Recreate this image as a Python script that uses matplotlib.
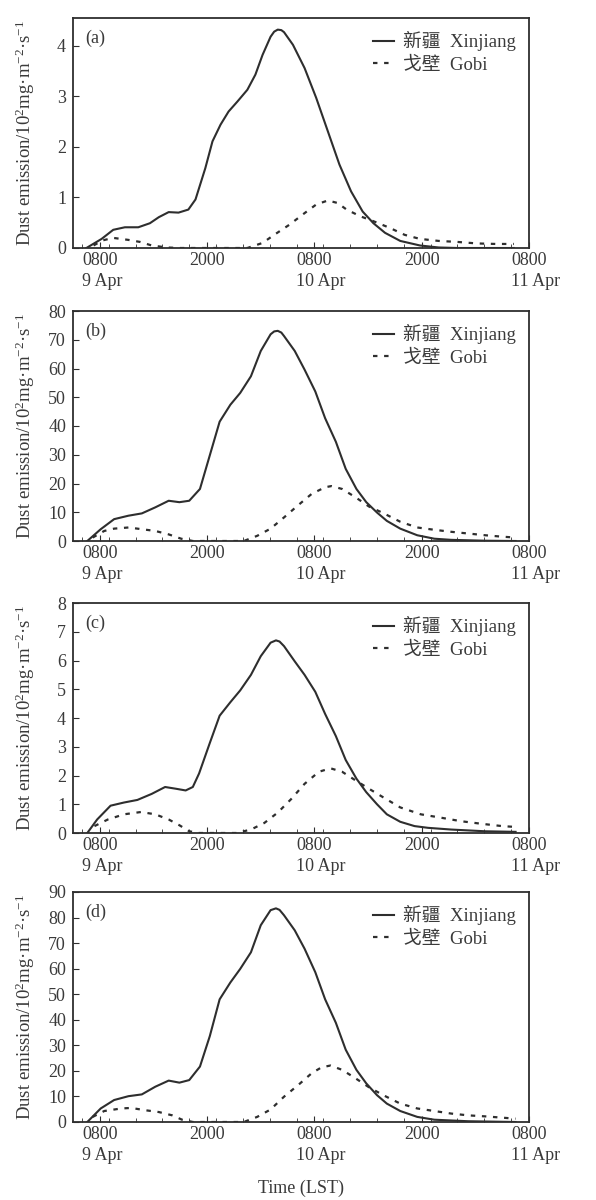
import matplotlib
matplotlib.use('Agg')
import matplotlib.pyplot as plt
from matplotlib.ticker import MultipleLocator

plt.rcParams['font.family'] = ['Liberation Serif', 'Noto Sans CJK SC']
plt.rcParams['mathtext.fontset'] = 'custom'
plt.rcParams['mathtext.rm'] = 'Liberation Serif'
plt.rcParams['mathtext.default'] = 'regular'

# time axis: hours since 0000 9 Apr (LST)
tick_hours = [8, 20, 32, 44, 56]
tick_labels = ['0800', '2000', '0800', '2000', '0800']
date_hours = [8, 32, 56]
date_labels = ['9 Apr', '10 Apr', '11 Apr']

# (a)
t_xj_a = [6.5, 8.2, 9.5, 10.8, 12.3, 13.6, 14.6, 15.7, 16.8, 17.9, 18.7, 19.8, 20.6, 21.5, 22.4,
          23.4, 24.5, 25.4, 26.2, 27.1, 27.5, 27.9, 28.3, 28.6, 29.6, 30.9, 32.2, 33.5, 34.8,
          36.1, 37.4, 38.6, 39.9, 41.6, 43.8, 45.9, 48.0, 54.3]
xj_a = [0, 0.18, 0.36, 0.41, 0.41, 0.49, 0.61, 0.71, 0.70, 0.76, 0.96, 1.58, 2.11, 2.44, 2.70,
        2.90, 3.13, 3.43, 3.82, 4.18, 4.28, 4.32, 4.31, 4.27, 4.02, 3.56, 2.97, 2.31, 1.65,
        1.12, 0.72, 0.49, 0.30, 0.14, 0.05, 0.01, 0.0, 0.0]
t_gb_a = [7.3, 8.3, 9.5, 11.2, 12.5, 13.8, 15.5, 17.0, 24.5, 26.2, 27.5, 29.2, 30.9, 32.2, 33.5,
          34.6, 35.6, 37.1, 38.6, 40.4, 42.1, 43.8, 45.9, 48.0, 50.2, 52.3, 54.3]
gb_a = [0.05, 0.15, 0.20, 0.16, 0.12, 0.05, 0.01, 0, 0, 0.10, 0.26, 0.46, 0.69, 0.86, 0.94,
        0.89, 0.76, 0.63, 0.53, 0.40, 0.26, 0.18, 0.14, 0.12, 0.09, 0.08, 0.08]

# (b)
t_xj_b = [6.6, 8.1, 9.6, 11.2, 12.7, 14.2, 15.7, 16.9, 18.0, 19.2, 20.3, 21.4, 22.6, 23.7, 24.9,
          26.0, 27.1, 27.5, 27.9, 28.3, 28.6, 29.8, 30.9, 32.1, 33.2, 34.4, 35.5, 36.7, 37.8,
          39.0, 40.1, 41.6, 43.5, 45.4, 47.3, 51.1, 54.5]
xj_b = [0, 4.1, 7.6, 8.8, 9.6, 11.7, 14.0, 13.5, 14.0, 18.1, 29.8, 41.5, 47.4, 51.5, 57.3,
        66.1, 71.9, 72.9, 73.1, 72.5, 71.3, 66.1, 59.6, 52.0, 42.7, 34.5, 25.1, 18.1, 13.5,
        9.9, 7.0, 4.3, 2.0, 0.8, 0.4, 0.1, 0]
t_gb_b = [7.2, 8.5, 9.6, 11.2, 12.7, 14.2, 15.7, 17.1, 18.4, 24.1, 25.6, 27.1, 28.6, 30.2, 31.7,
          33.2, 33.9, 35.1, 36.6, 38.1, 39.7, 41.6, 43.5, 45.4, 47.3, 49.2, 51.1, 53.0, 54.5]
gb_b = [1.2, 3.5, 4.3, 4.7, 4.1, 3.5, 2.3, 0.8, 0, 0, 1.8, 4.3, 8.2, 12.5, 16.4,
        18.7, 19.1, 18.1, 15.2, 12.0, 9.7, 6.7, 4.7, 3.9, 3.2, 2.6, 2.0, 1.5, 1.2]

# (c)
t_xj_c = [6.6, 7.7, 9.2, 10.7, 12.2, 13.8, 15.3, 16.5, 17.6, 18.4, 19.1, 20.3, 21.4, 22.6, 23.7,
          24.9, 26.0, 27.1, 27.7, 28.1, 28.6, 29.8, 30.9, 32.1, 33.2, 34.4, 35.5, 36.7, 37.8,
          39.0, 40.1, 41.6, 43.2, 44.7, 47.3, 51.1, 54.5]
xj_c = [0, 0.47, 0.95, 1.06, 1.15, 1.36, 1.60, 1.54, 1.48, 1.60, 2.07, 3.13, 4.08, 4.55, 4.96,
        5.50, 6.15, 6.62, 6.70, 6.66, 6.50, 5.97, 5.50, 4.91, 4.14, 3.37, 2.54, 1.89, 1.42,
        1.00, 0.65, 0.39, 0.24, 0.18, 0.12, 0.06, 0.04]
t_gb_c = [7.4, 8.9, 10.7, 12.6, 14.2, 15.7, 16.9, 18.0, 19.1, 23.3, 24.9, 26.4, 27.9, 29.4, 30.9,
          32.5, 33.8, 35.1, 36.6, 38.1, 39.7, 41.6, 43.9, 46.2, 48.4, 50.7, 53.0, 54.5]
gb_c = [0.24, 0.47, 0.65, 0.73, 0.65, 0.47, 0.27, 0.06, 0, 0, 0.12, 0.35, 0.71, 1.18, 1.71,
        2.13, 2.25, 2.13, 1.83, 1.54, 1.24, 0.89, 0.65, 0.53, 0.41, 0.32, 0.24, 0.21]

# (d)
t_xj_d = [6.6, 8.1, 9.6, 11.2, 12.7, 14.2, 15.7, 16.9, 18.0, 19.2, 20.3, 21.4, 22.6, 23.7, 24.9,
          26.0, 27.1, 27.7, 28.1, 28.6, 29.8, 30.9, 32.1, 33.2, 34.4, 35.5, 36.7, 37.8, 39.0,
          40.1, 41.6, 43.5, 45.4, 49.2, 54.5]
xj_d = [0, 5.3, 8.6, 10.1, 10.8, 13.8, 16.2, 15.4, 16.4, 21.7, 33.6, 48.0, 54.6, 59.9, 66.4,
        77.0, 82.9, 83.6, 83.0, 80.9, 75.0, 67.8, 58.6, 48.0, 38.8, 28.3, 20.4, 15.1, 10.5,
        7.2, 4.3, 2.0, 0.9, 0.3, 0]
t_gb_d = [7.2, 8.5, 10.4, 11.5, 13.1, 14.6, 16.1, 17.2, 18.4, 24.1, 25.6, 27.1, 28.6, 30.2, 31.7,
          32.8, 33.8, 35.1, 36.6, 38.1, 39.7, 41.6, 43.5, 45.4, 47.3, 49.2, 51.1, 53.0, 54.5]
gb_d = [2.0, 4.3, 5.3, 5.5, 4.6, 3.9, 2.6, 0.9, 0, 0, 2.0, 4.9, 9.9, 14.5, 19.1,
        21.4, 22.1, 20.4, 17.1, 13.6, 10.5, 7.2, 5.3, 4.3, 3.3, 2.6, 2.2, 1.7, 1.3]

panels = [
    ('(a)', t_xj_a, xj_a, t_gb_a, gb_a, 4.55, 1),
    ('(b)', t_xj_b, xj_b, t_gb_b, gb_b, 80, 10),
    ('(c)', t_xj_c, xj_c, t_gb_c, gb_c, 8, 1),
    ('(d)', t_xj_d, xj_d, t_gb_d, gb_d, 90, 10),
]

ink = '#2e2e2e'
txt = '#3a3a3a'
ylab = 'Dust emission/10$^{2}$mg\u00b7m$^{-2}$\u00b7s$^{-1}$'

fig = plt.figure(figsize=(5.96, 12), dpi=100)
tops = [18, 311, 603, 892]

for (name, tx, yx, tg, yg, ytop, ystep), top in zip(panels, tops):
    ax = fig.add_axes([73 / 596, 1 - (top + 230) / 1200, 456 / 596, 230 / 1200])
    ax.plot(tx, yx, color=ink, lw=1.5, solid_joinstyle='round', label='新疆  Xinjiang')
    ax.plot(tg, yg, color=ink, lw=1.6, ls=(0, (2, 3)), label='戈壁  Gobi')
    ax.set_xlim(5, 56)
    ax.set_ylim(0, ytop)
    ax.yaxis.set_major_locator(MultipleLocator(ystep))
    ax.set_xticks(tick_hours)
    ax.set_xticklabels(tick_labels)
    ax.xaxis.set_minor_locator(MultipleLocator(3))
    ax.tick_params(direction='in', which='both', colors=ink, labelcolor=txt, labelsize=13)
    ax.tick_params(axis='x', which='major', length=4, pad=3)
    ax.tick_params(axis='x', which='minor', length=3)
    ax.tick_params(axis='y', length=4, pad=5)
    for s in ax.spines.values():
        s.set_color(ink)
        s.set_linewidth(1.3)
    for h, d in zip(date_hours, date_labels):
        ax.annotate(d, xy=(h, 0), xycoords=('data', 'axes fraction'), xytext=(-13, -18),
                    textcoords='offset points', ha='left', va='top', fontsize=13, color=txt,
                    annotation_clip=False)
    ax.text(0.026, 0.91, name, transform=ax.transAxes, fontsize=13, color=txt, va='center')
    ax.legend(loc='upper right', frameon=False, fontsize=13.5, handlelength=1.1,
              handletextpad=0.5, labelspacing=0.3, borderaxespad=0.3, labelcolor=txt)
    ax.set_ylabel(ylab, fontsize=13.5, color=txt)
    ax.yaxis.set_label_coords(-0.078, 0.5)

ax.set_xlabel('Time (LST)', fontsize=13, color=txt, labelpad=26)

fig.savefig('out.png', dpi=100)
